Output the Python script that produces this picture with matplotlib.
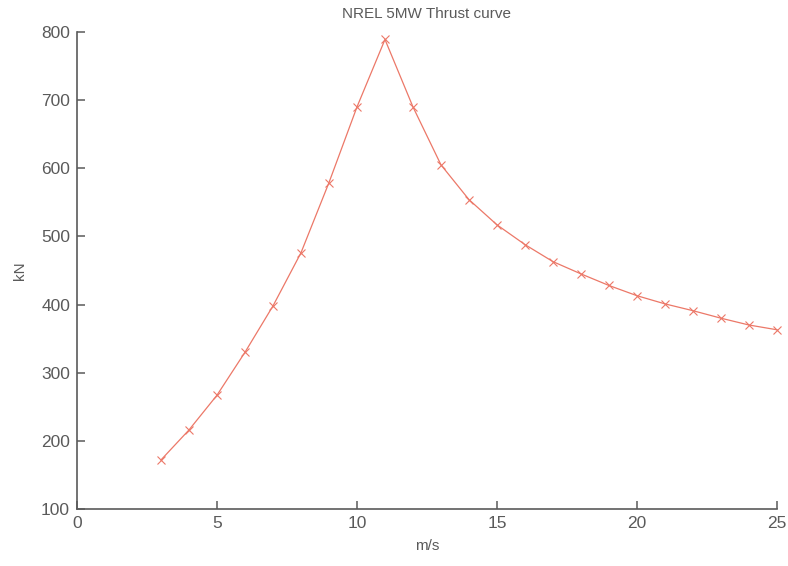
import matplotlib
matplotlib.use("Agg")
import matplotlib.pyplot as plt

# wind speed (m/s) and thrust (kN)
wind = [3, 4, 5, 6, 7, 8, 9, 10, 11, 12, 13, 14, 15, 16, 17, 18, 19, 20, 21, 22, 23, 24, 25]
thrust = [172, 216, 267, 330, 398, 476, 579, 690, 789, 690, 605, 554, 517, 488, 463,
          445, 428, 413, 401, 391, 380, 370, 363]

plt.rcParams['font.family'] = ['Liberation Sans', 'DejaVu Sans']
grey = '#5a5a5a'

fig = plt.figure(figsize=(7.88, 5.66), dpi=100)
ax = fig.add_axes([0.0977, 0.1007, 0.8883, 0.8428])

ax.plot(wind, thrust, color='#ec7868', lw=0.9, marker='x', ms=5.5, mew=0.8, clip_on=False)

ax.set_xlim(0, 25)
ax.set_ylim(100, 800)
ax.set_xticks(range(0, 26, 5))
ax.set_yticks(range(100, 801, 100))

ax.spines['top'].set_visible(False)
ax.spines['right'].set_visible(False)
for s in ('left', 'bottom'):
    ax.spines[s].set_color(grey)
    ax.spines[s].set_linewidth(1.2)
ax.tick_params(direction='in', length=6, width=1.1, color=grey, labelcolor=grey, labelsize=12.5, pad=5)

ax.set_title('NREL 5MW Thrust curve', fontsize=11, color=grey, pad=10)
ax.set_xlabel('m/s', fontsize=11, color=grey, labelpad=6)
ax.set_ylabel('kN', fontsize=11, color=grey, labelpad=10)

fig.savefig('out.png', dpi=100)
